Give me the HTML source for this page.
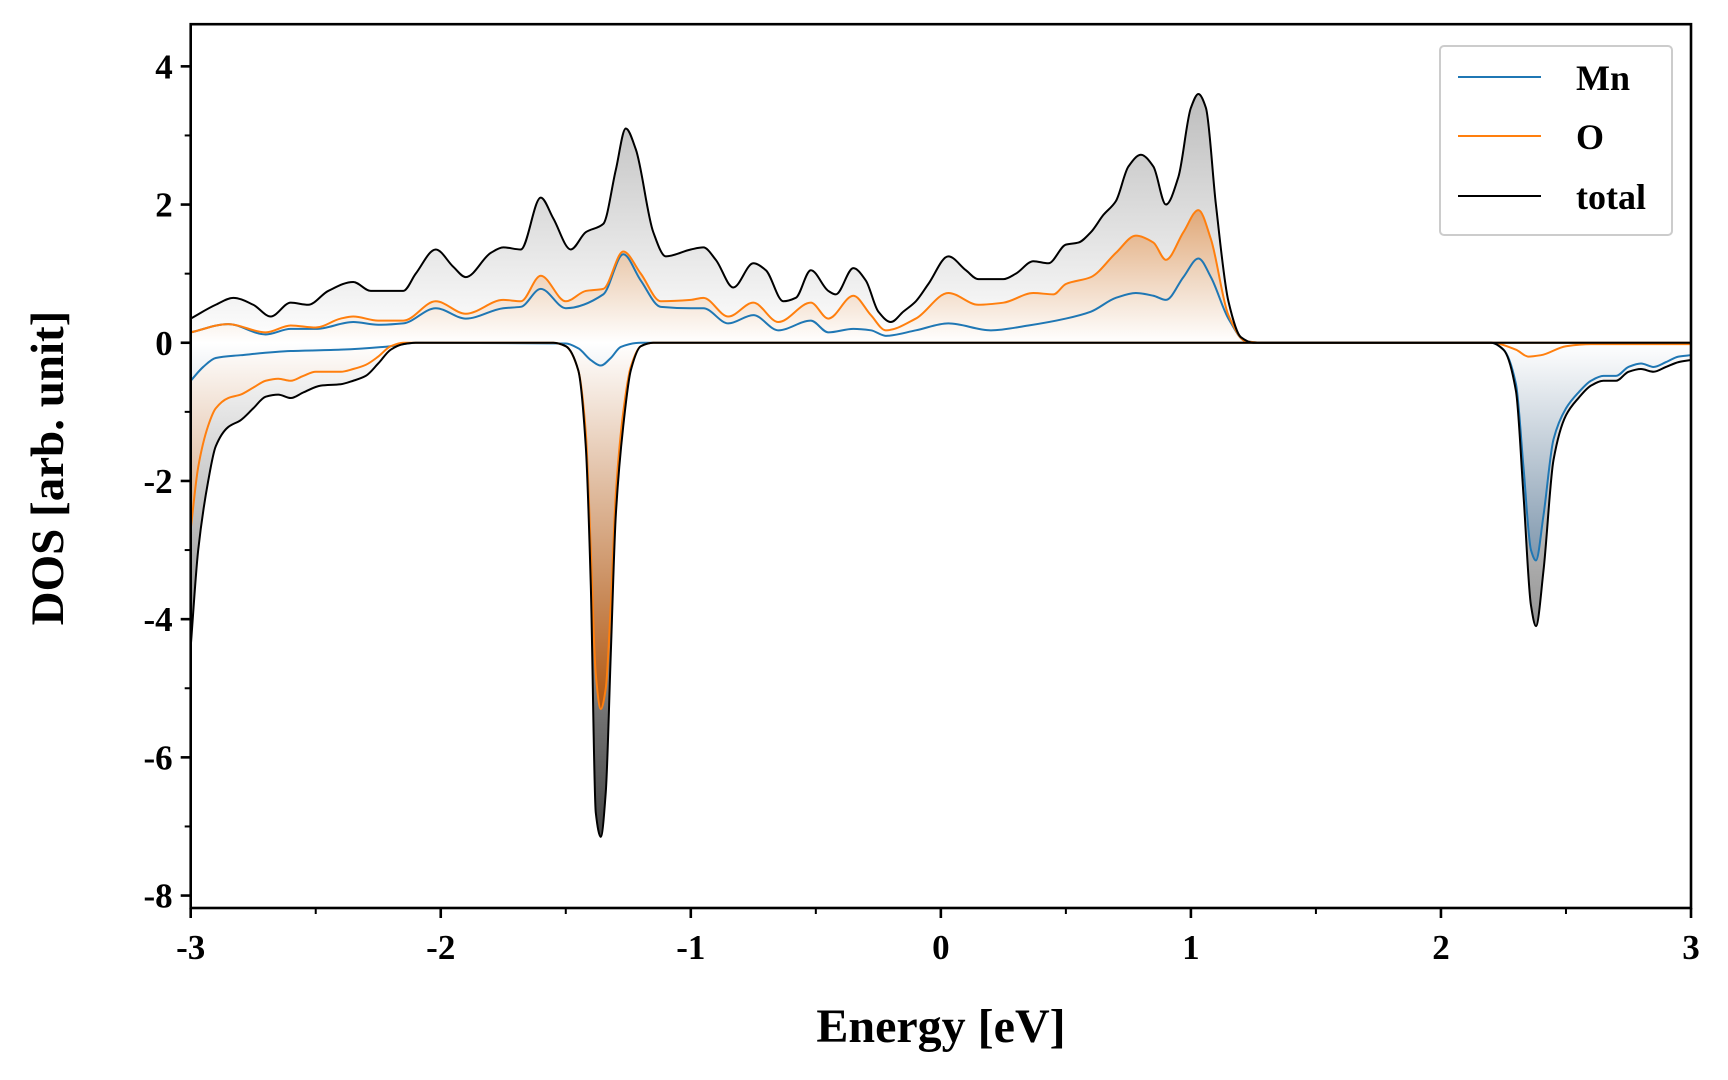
<!DOCTYPE html>
<html><head><meta charset="utf-8"><style>
html,body{margin:0;padding:0;background:#fff;}
svg{display:block;font-family:"Liberation Serif",serif;font-weight:bold;}
</style></head><body>
<svg id="chart" width="1728" height="1080" viewBox="0 0 1728 1080" xmlns="http://www.w3.org/2000/svg">
<defs>
<linearGradient id="gTotUp" gradientUnits="userSpaceOnUse" x1="0" y1="94" x2="0" y2="343"><stop offset="0" stop-color="#bdbdbd"/><stop offset="1" stop-color="#ffffff"/></linearGradient>
<linearGradient id="gOUp" gradientUnits="userSpaceOnUse" x1="0" y1="210" x2="0" y2="343"><stop offset="0" stop-color="#e0a878"/><stop offset="1" stop-color="#ffffff"/></linearGradient>
<linearGradient id="gMnUp" gradientUnits="userSpaceOnUse" x1="0" y1="250" x2="0" y2="343"><stop offset="0" stop-color="#e8c9ad" stop-opacity="0.6"/><stop offset="1" stop-color="#ffffff" stop-opacity="0.6"/></linearGradient>
<linearGradient id="gTotDn" gradientUnits="userSpaceOnUse" x1="0" y1="343" x2="0" y2="837"><stop offset="0" stop-color="#ffffff"/><stop offset="1" stop-color="#444444"/></linearGradient>
<linearGradient id="gODn" gradientUnits="userSpaceOnUse" x1="0" y1="343" x2="0" y2="710"><stop offset="0" stop-color="#ffffff"/><stop offset="1" stop-color="#b0560f"/></linearGradient>
<linearGradient id="gMnDn" gradientUnits="userSpaceOnUse" x1="0" y1="343" x2="0" y2="560"><stop offset="0" stop-color="#ffffff"/><stop offset="1" stop-color="#7f97ad"/></linearGradient>
</defs>
<g id="fills"></g>
<g id="lines"></g>
<g id="axes"></g>
<g>
<rect x="1440" y="46" width="232" height="189" rx="4" fill="#fff" fill-opacity="0.85" stroke="#cccccc" stroke-width="2"/>
<line x1="1458" y1="77" x2="1541" y2="77" stroke="#1f77b4" stroke-width="2"/>
<text x="1576" y="90" font-size="36">Mn</text>
<line x1="1458" y1="136" x2="1541" y2="136" stroke="#ff7f0e" stroke-width="2"/>
<text x="1576" y="149" font-size="36">O</text>
<line x1="1458" y1="196" x2="1541" y2="196" stroke="#000" stroke-width="2"/>
<text x="1576" y="209" font-size="36">total</text>
</g>
<text x="941" y="1042" font-size="48" text-anchor="middle">Energy [eV]</text>
<text x="0" y="0" font-size="47" text-anchor="middle" transform="translate(63,468) rotate(-90)">DOS [arb. unit]</text>
</svg>
<script>
const totUpE=[-3,-2.9,-2.83,-2.75,-2.68,-2.6,-2.53,-2.45,-2.35,-2.28,-2.2,-2.15,-2.1,-2.02,-1.95,-1.9,-1.8,-1.75,-1.68,-1.6,-1.55,-1.48,-1.42,-1.35,-1.3,-1.26,-1.22,-1.15,-1.1,-1.0,-0.95,-0.9,-0.83,-0.75,-0.7,-0.63,-0.58,-0.52,-0.45,-0.42,-0.35,-0.3,-0.25,-0.2,-0.15,-0.1,-0.05,0.03,0.1,0.15,0.25,0.3,0.37,0.43,0.5,0.55,0.6,0.65,0.7,0.75,0.8,0.85,0.9,0.95,1.0,1.03,1.06,1.1,1.15,1.2,1.25,3];
const totUpV=[0.35,0.55,0.65,0.55,0.38,0.58,0.55,0.75,0.88,0.75,0.75,0.75,1.0,1.35,1.1,0.95,1.3,1.38,1.35,2.1,1.8,1.35,1.6,1.72,2.5,3.1,2.8,1.6,1.25,1.35,1.38,1.2,0.8,1.15,1.05,0.6,0.65,1.05,0.75,0.7,1.08,0.9,0.45,0.3,0.45,0.6,0.85,1.25,1.05,0.92,0.92,1.0,1.18,1.15,1.42,1.45,1.6,1.85,2.05,2.55,2.72,2.55,2.0,2.4,3.4,3.6,3.4,2.0,0.6,0.08,0,0];
const oUpE=[-3,-2.85,-2.7,-2.6,-2.5,-2.4,-2.35,-2.25,-2.15,-2.02,-1.9,-1.75,-1.68,-1.6,-1.5,-1.42,-1.35,-1.27,-1.2,-1.12,-1.0,-0.95,-0.85,-0.75,-0.65,-0.52,-0.45,-0.35,-0.28,-0.22,-0.1,0.03,0.15,0.25,0.37,0.45,0.5,0.6,0.7,0.78,0.85,0.9,0.97,1.03,1.08,1.15,1.22,1.3,3];
const oUpV=[0.15,0.27,0.15,0.25,0.22,0.35,0.38,0.32,0.32,0.6,0.42,0.62,0.6,0.97,0.6,0.75,0.78,1.32,1.0,0.6,0.62,0.65,0.38,0.58,0.3,0.58,0.35,0.68,0.4,0.18,0.35,0.72,0.55,0.58,0.72,0.7,0.85,0.95,1.3,1.55,1.45,1.2,1.6,1.92,1.5,0.4,0.02,0,0];
const mnUpE=[-3,-2.85,-2.7,-2.6,-2.5,-2.35,-2.25,-2.15,-2.02,-1.9,-1.75,-1.68,-1.6,-1.5,-1.35,-1.27,-1.2,-1.12,-1.0,-0.95,-0.85,-0.75,-0.65,-0.52,-0.45,-0.35,-0.28,-0.22,-0.1,0.03,0.2,0.35,0.5,0.6,0.7,0.78,0.85,0.9,0.97,1.03,1.08,1.15,1.22,1.3,3];
const mnUpV=[0.15,0.27,0.12,0.2,0.2,0.3,0.26,0.28,0.5,0.35,0.5,0.52,0.78,0.5,0.7,1.28,0.9,0.52,0.5,0.5,0.28,0.4,0.18,0.32,0.15,0.2,0.18,0.1,0.18,0.28,0.18,0.25,0.35,0.45,0.65,0.72,0.68,0.62,0.95,1.22,0.95,0.35,0.02,0,0];
const totDnE=[-3,-2.97,-2.93,-2.9,-2.85,-2.8,-2.75,-2.7,-2.65,-2.6,-2.55,-2.48,-2.4,-2.35,-2.3,-2.25,-2.2,-2.15,-2.1,-1.55,-1.5,-1.45,-1.42,-1.4,-1.38,-1.36,-1.34,-1.32,-1.3,-1.27,-1.24,-1.2,-1.15,2.2,2.25,2.3,2.33,2.36,2.38,2.41,2.45,2.5,2.55,2.6,2.65,2.7,2.75,2.8,2.85,2.9,2.95,3];
const totDnV=[-4.4,-3.0,-2.0,-1.5,-1.22,-1.12,-0.95,-0.78,-0.75,-0.8,-0.72,-0.62,-0.6,-0.55,-0.48,-0.3,-0.1,-0.02,0,0,-0.05,-0.4,-1.5,-3.5,-6.8,-7.15,-6.5,-4.5,-2.5,-1.2,-0.4,-0.05,0,0,-0.1,-0.7,-2.2,-3.8,-4.1,-3.3,-1.7,-1.05,-0.8,-0.62,-0.55,-0.55,-0.42,-0.38,-0.42,-0.35,-0.28,-0.25];
const oDnE=[-3,-2.97,-2.93,-2.9,-2.85,-2.8,-2.75,-2.7,-2.65,-2.6,-2.55,-2.5,-2.4,-2.35,-2.3,-2.25,-2.2,-2.15,-1.55,-1.5,-1.45,-1.42,-1.4,-1.38,-1.36,-1.34,-1.32,-1.3,-1.27,-1.24,-1.2,-1.15,2.2,2.3,2.35,2.4,2.5,2.6,3];
const oDnV=[-2.7,-1.8,-1.2,-0.95,-0.8,-0.75,-0.65,-0.55,-0.52,-0.55,-0.48,-0.42,-0.42,-0.38,-0.32,-0.2,-0.05,0,0,-0.05,-0.4,-1.3,-3.0,-4.8,-5.3,-5.0,-3.8,-2.2,-1.0,-0.35,-0.05,0,0,-0.1,-0.2,-0.18,-0.05,-0.02,-0.02];
const mnDnE=[-3,-2.95,-2.9,-2.8,-2.6,-2.4,-2.2,-2.1,-1.5,-1.45,-1.4,-1.36,-1.32,-1.28,-1.2,2.2,2.25,2.3,2.33,2.36,2.38,2.41,2.45,2.5,2.55,2.6,2.65,2.7,2.75,2.8,2.85,2.9,2.95,3];
const mnDnV=[-0.55,-0.35,-0.22,-0.18,-0.12,-0.1,-0.05,0,-0.01,-0.08,-0.25,-0.33,-0.22,-0.06,0,0,-0.1,-0.6,-1.8,-3.0,-3.15,-2.5,-1.4,-0.95,-0.72,-0.55,-0.48,-0.48,-0.35,-0.3,-0.35,-0.28,-0.2,-0.18];
const xTicks=[-3,-2,-1,0,1,2,3];
const xTickLabels=["-3","-2","-1","0","1","2","3"];
const yTicks=[-8,-6,-4,-2,0,2,4];
const yTickLabels=["-8","-6","-4","-2","0","2","4"];

const L=190.7,R=1691,T=24.2,B=908;
const xmin=-3,xmax=3,ymin=-8.18,ymax=4.61;
const sx=e=>L+(e-xmin)/(xmax-xmin)*(R-L);
const sy=v=>B-(v-ymin)/(ymax-ymin)*(B-T);
const NS='http://www.w3.org/2000/svg';
function smooth(E,V){
  const x=E.map(sx),y=V.map(sy),n=x.length;
  const d=[],m=new Array(n);
  for(let i=0;i<n-1;i++)d.push((y[i+1]-y[i])/(x[i+1]-x[i]));
  m[0]=d[0];m[n-1]=d[n-2];
  for(let i=1;i<n-1;i++){
    if(d[i-1]*d[i]<=0)m[i]=0;
    else{const h0=x[i]-x[i-1],h1=x[i+1]-x[i];const w1=2*h1+h0,w2=h1+2*h0;m[i]=(w1+w2)/(w1/d[i-1]+w2/d[i]);}
  }
  let s='M'+x[0].toFixed(2)+','+y[0].toFixed(2);
  for(let i=0;i<n-1;i++){
    const h=(x[i+1]-x[i])/3;
    s+=' C'+(x[i]+h).toFixed(2)+','+(y[i]+m[i]*h).toFixed(2)+' '+(x[i+1]-h).toFixed(2)+','+(y[i+1]-m[i+1]*h).toFixed(2)+' '+x[i+1].toFixed(2)+','+y[i+1].toFixed(2);
  }
  return s;
}
const fills=document.getElementById('fills'),lines=document.getElementById('lines'),axes=document.getElementById('axes');
function addFill(E,V,grad,name){
  const el=document.createElementNS(NS,'path');
  el.setAttribute('d',smooth(E,V)+' L'+sx(E[E.length-1])+','+sy(0)+' L'+sx(E[0])+','+sy(0)+' Z');
  el.setAttribute('fill','url(#'+grad+')');
  
  
  fills.appendChild(el);
}
function addLine(E,V,color,name){
  const el=document.createElementNS(NS,'path');
  el.setAttribute('d',smooth(E,V));
  el.setAttribute('fill','none');el.setAttribute('stroke',color);el.setAttribute('stroke-width','2');
  
  
  lines.appendChild(el);
}
addFill(totUpE,totUpV,'gTotUp','total-up-fill');
addFill(oUpE,oUpV,'gOUp','o-up-fill');
addFill(mnUpE,mnUpV,'gMnUp','mn-up-fill');
addFill(totDnE,totDnV,'gTotDn','total-down-fill');
addFill(oDnE,oDnV,'gODn','o-down-fill');
addFill(mnDnE,mnDnV,'gMnDn','mn-down-fill');
addLine(mnUpE,mnUpV,'#1f77b4','mn-up-line');
addLine(mnDnE,mnDnV,'#1f77b4','mn-down-line');
addLine(oUpE,oUpV,'#ff7f0e','o-up-line');
addLine(oDnE,oDnV,'#ff7f0e','o-down-line');
addLine(totUpE,totUpV,'#000','total-up-line');
addLine(totDnE,totDnV,'#000','total-down-line');

function ln(x1,y1,x2,y2,w,name){
  const el=document.createElementNS(NS,'line');
  el.setAttribute('x1',x1);el.setAttribute('y1',y1);el.setAttribute('x2',x2);el.setAttribute('y2',y2);
  el.setAttribute('stroke','#000');el.setAttribute('stroke-width',w);
  
  
  axes.appendChild(el);
}
function tx(x,y,s,anchor,name){
  const el=document.createElementNS(NS,'text');
  el.setAttribute('x',x);el.setAttribute('y',y);el.setAttribute('font-size','35');el.setAttribute('text-anchor',anchor);
  el.textContent=s;
  
  
  axes.appendChild(el);
}
const frame=document.createElementNS(NS,'rect');
frame.setAttribute('x',L);frame.setAttribute('y',T);frame.setAttribute('width',R-L);frame.setAttribute('height',B-T);
frame.setAttribute('fill','none');frame.setAttribute('stroke','#000');frame.setAttribute('stroke-width','2.6');


axes.appendChild(frame);
xTicks.forEach((t,i)=>{ln(sx(t),B,sx(t),B+10,2.6,'x-tick');tx(sx(t),B+51,xTickLabels[i],'middle','x-tick-label');});
for(let t=-2.5;t<3;t+=1){ln(sx(t),B,sx(t),B+6,2,'x-minor-tick');}
yTicks.forEach((t,i)=>{ln(L-10,sy(t),L,sy(t),2.6,'y-tick');tx(L-18,sy(t)+12,yTickLabels[i],'end','y-tick-label');});
for(let t=-7;t<=3;t+=2){ln(L-6,sy(t),L,sy(t),2,'y-minor-tick');}
</script>
</body></html>
